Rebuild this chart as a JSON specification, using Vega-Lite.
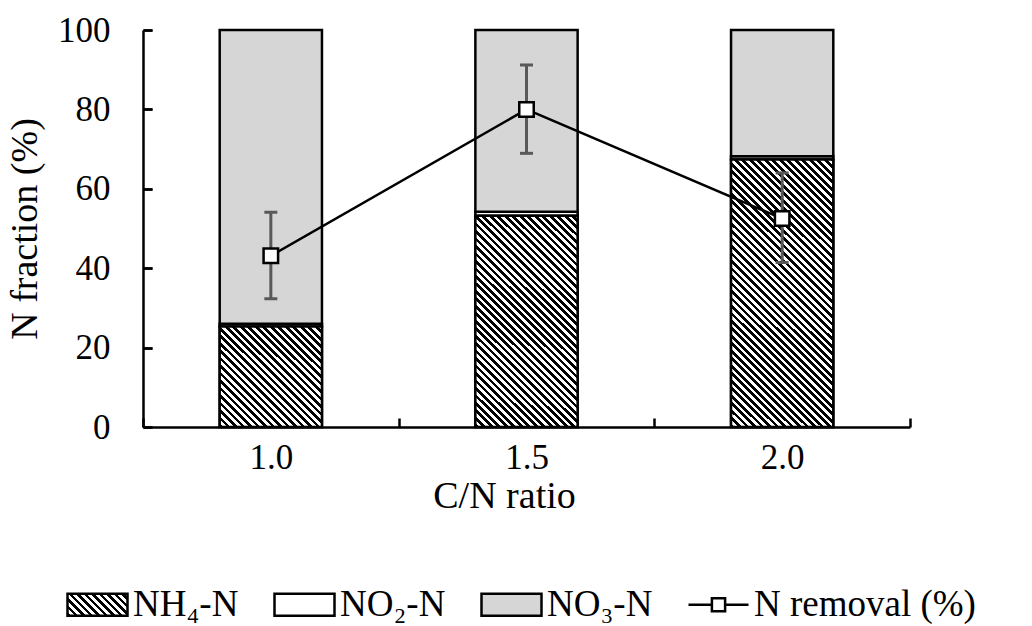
{
  "$schema": "https://vega.github.io/schema/vega-lite/v6.json",
  "width": 767,
  "height": 397,
  "autosize": {"type": "none"},
  "padding": {"left": 143, "top": 30, "right": 122, "bottom": 199},
  "background": "white",
  "params": [
    {"name": "hatch", "value": [
      {"offset":0,"color":"#000"},{"offset":0.01,"color":"#000"},{"offset":0.01,"color":"#fff"},{"offset":0.02,"color":"#fff"},
      {"offset":0.02,"color":"#000"},{"offset":0.03,"color":"#000"},{"offset":0.03,"color":"#fff"},{"offset":0.04,"color":"#fff"},
      {"offset":0.04,"color":"#000"},{"offset":0.05,"color":"#000"},{"offset":0.05,"color":"#fff"},{"offset":0.06,"color":"#fff"},
      {"offset":0.06,"color":"#000"},{"offset":0.07,"color":"#000"},{"offset":0.07,"color":"#fff"},{"offset":0.08,"color":"#fff"},
      {"offset":0.08,"color":"#000"},{"offset":0.09,"color":"#000"},{"offset":0.09,"color":"#fff"},{"offset":0.1,"color":"#fff"},
      {"offset":0.1,"color":"#000"},{"offset":0.11,"color":"#000"},{"offset":0.11,"color":"#fff"},{"offset":0.12,"color":"#fff"},
      {"offset":0.12,"color":"#000"},{"offset":0.13,"color":"#000"},{"offset":0.13,"color":"#fff"},{"offset":0.14,"color":"#fff"},
      {"offset":0.14,"color":"#000"},{"offset":0.15,"color":"#000"},{"offset":0.15,"color":"#fff"},{"offset":0.16,"color":"#fff"},
      {"offset":0.16,"color":"#000"},{"offset":0.17,"color":"#000"},{"offset":0.17,"color":"#fff"},{"offset":0.18,"color":"#fff"},
      {"offset":0.18,"color":"#000"},{"offset":0.19,"color":"#000"},{"offset":0.19,"color":"#fff"},{"offset":0.2,"color":"#fff"},
      {"offset":0.2,"color":"#000"},{"offset":0.21,"color":"#000"},{"offset":0.21,"color":"#fff"},{"offset":0.22,"color":"#fff"},
      {"offset":0.22,"color":"#000"},{"offset":0.23,"color":"#000"},{"offset":0.23,"color":"#fff"},{"offset":0.24,"color":"#fff"},
      {"offset":0.24,"color":"#000"},{"offset":0.25,"color":"#000"},{"offset":0.25,"color":"#fff"},{"offset":0.26,"color":"#fff"},
      {"offset":0.26,"color":"#000"},{"offset":0.27,"color":"#000"},{"offset":0.27,"color":"#fff"},{"offset":0.28,"color":"#fff"},
      {"offset":0.28,"color":"#000"},{"offset":0.29,"color":"#000"},{"offset":0.29,"color":"#fff"},{"offset":0.3,"color":"#fff"},
      {"offset":0.3,"color":"#000"},{"offset":0.31,"color":"#000"},{"offset":0.31,"color":"#fff"},{"offset":0.32,"color":"#fff"},
      {"offset":0.32,"color":"#000"},{"offset":0.33,"color":"#000"},{"offset":0.33,"color":"#fff"},{"offset":0.34,"color":"#fff"},
      {"offset":0.34,"color":"#000"},{"offset":0.35,"color":"#000"},{"offset":0.35,"color":"#fff"},{"offset":0.36,"color":"#fff"},
      {"offset":0.36,"color":"#000"},{"offset":0.37,"color":"#000"},{"offset":0.37,"color":"#fff"},{"offset":0.38,"color":"#fff"},
      {"offset":0.38,"color":"#000"},{"offset":0.39,"color":"#000"},{"offset":0.39,"color":"#fff"},{"offset":0.4,"color":"#fff"},
      {"offset":0.4,"color":"#000"},{"offset":0.41,"color":"#000"},{"offset":0.41,"color":"#fff"},{"offset":0.42,"color":"#fff"},
      {"offset":0.42,"color":"#000"},{"offset":0.43,"color":"#000"},{"offset":0.43,"color":"#fff"},{"offset":0.44,"color":"#fff"},
      {"offset":0.44,"color":"#000"},{"offset":0.45,"color":"#000"},{"offset":0.45,"color":"#fff"},{"offset":0.46,"color":"#fff"},
      {"offset":0.46,"color":"#000"},{"offset":0.47,"color":"#000"},{"offset":0.47,"color":"#fff"},{"offset":0.48,"color":"#fff"},
      {"offset":0.48,"color":"#000"},{"offset":0.49,"color":"#000"},{"offset":0.49,"color":"#fff"},{"offset":0.5,"color":"#fff"},
      {"offset":0.5,"color":"#000"},{"offset":0.51,"color":"#000"},{"offset":0.51,"color":"#fff"},{"offset":0.52,"color":"#fff"},
      {"offset":0.52,"color":"#000"},{"offset":0.53,"color":"#000"},{"offset":0.53,"color":"#fff"},{"offset":0.54,"color":"#fff"},
      {"offset":0.54,"color":"#000"},{"offset":0.55,"color":"#000"},{"offset":0.55,"color":"#fff"},{"offset":0.56,"color":"#fff"},
      {"offset":0.56,"color":"#000"},{"offset":0.57,"color":"#000"},{"offset":0.57,"color":"#fff"},{"offset":0.58,"color":"#fff"},
      {"offset":0.58,"color":"#000"},{"offset":0.59,"color":"#000"},{"offset":0.59,"color":"#fff"},{"offset":0.6,"color":"#fff"},
      {"offset":0.6,"color":"#000"},{"offset":0.61,"color":"#000"},{"offset":0.61,"color":"#fff"},{"offset":0.62,"color":"#fff"},
      {"offset":0.62,"color":"#000"},{"offset":0.63,"color":"#000"},{"offset":0.63,"color":"#fff"},{"offset":0.64,"color":"#fff"},
      {"offset":0.64,"color":"#000"},{"offset":0.65,"color":"#000"},{"offset":0.65,"color":"#fff"},{"offset":0.66,"color":"#fff"},
      {"offset":0.66,"color":"#000"},{"offset":0.67,"color":"#000"},{"offset":0.67,"color":"#fff"},{"offset":0.68,"color":"#fff"},
      {"offset":0.68,"color":"#000"},{"offset":0.69,"color":"#000"},{"offset":0.69,"color":"#fff"},{"offset":0.7,"color":"#fff"},
      {"offset":0.7,"color":"#000"},{"offset":0.71,"color":"#000"},{"offset":0.71,"color":"#fff"},{"offset":0.72,"color":"#fff"},
      {"offset":0.72,"color":"#000"},{"offset":0.73,"color":"#000"},{"offset":0.73,"color":"#fff"},{"offset":0.74,"color":"#fff"},
      {"offset":0.74,"color":"#000"},{"offset":0.75,"color":"#000"},{"offset":0.75,"color":"#fff"},{"offset":0.76,"color":"#fff"},
      {"offset":0.76,"color":"#000"},{"offset":0.77,"color":"#000"},{"offset":0.77,"color":"#fff"},{"offset":0.78,"color":"#fff"},
      {"offset":0.78,"color":"#000"},{"offset":0.79,"color":"#000"},{"offset":0.79,"color":"#fff"},{"offset":0.8,"color":"#fff"},
      {"offset":0.8,"color":"#000"},{"offset":0.81,"color":"#000"},{"offset":0.81,"color":"#fff"},{"offset":0.82,"color":"#fff"},
      {"offset":0.82,"color":"#000"},{"offset":0.83,"color":"#000"},{"offset":0.83,"color":"#fff"},{"offset":0.84,"color":"#fff"},
      {"offset":0.84,"color":"#000"},{"offset":0.85,"color":"#000"},{"offset":0.85,"color":"#fff"},{"offset":0.86,"color":"#fff"},
      {"offset":0.86,"color":"#000"},{"offset":0.87,"color":"#000"},{"offset":0.87,"color":"#fff"},{"offset":0.88,"color":"#fff"},
      {"offset":0.88,"color":"#000"},{"offset":0.89,"color":"#000"},{"offset":0.89,"color":"#fff"},{"offset":0.9,"color":"#fff"},
      {"offset":0.9,"color":"#000"},{"offset":0.91,"color":"#000"},{"offset":0.91,"color":"#fff"},{"offset":0.92,"color":"#fff"},
      {"offset":0.92,"color":"#000"},{"offset":0.93,"color":"#000"},{"offset":0.93,"color":"#fff"},{"offset":0.94,"color":"#fff"},
      {"offset":0.94,"color":"#000"},{"offset":0.95,"color":"#000"},{"offset":0.95,"color":"#fff"},{"offset":0.96,"color":"#fff"},
      {"offset":0.96,"color":"#000"},{"offset":0.97,"color":"#000"},{"offset":0.97,"color":"#fff"},{"offset":0.98,"color":"#fff"},
      {"offset":0.98,"color":"#000"},{"offset":0.99,"color":"#000"},{"offset":0.99,"color":"#fff"},{"offset":1,"color":"#fff"}
    ]}
  ],
  "datasets": {
    "fractions": [
      {"ratio": "1.0", "series": "NH₄-N", "key": "NH4", "order": 1, "value": 25.3},
      {"ratio": "1.0", "series": "NO₂-N", "key": "NO2", "order": 2, "value": 0.7},
      {"ratio": "1.0", "series": "NO₃-N", "key": "NO3", "order": 3, "value": 74.0},
      {"ratio": "1.5", "series": "NH₄-N", "key": "NH4", "order": 1, "value": 53.2},
      {"ratio": "1.5", "series": "NO₂-N", "key": "NO2", "order": 2, "value": 1.0},
      {"ratio": "1.5", "series": "NO₃-N", "key": "NO3", "order": 3, "value": 45.8},
      {"ratio": "2.0", "series": "NH₄-N", "key": "NH4", "order": 1, "value": 67.4},
      {"ratio": "2.0", "series": "NO₂-N", "key": "NO2", "order": 2, "value": 0.8},
      {"ratio": "2.0", "series": "NO₃-N", "key": "NO3", "order": 3, "value": 31.8}
    ],
    "removal": [
      {"ratio": "1.0", "removal": 80.9, "lower": 79.17, "upper": 82.65},
      {"ratio": "1.5", "removal": 86.8, "lower": 85.03, "upper": 88.59},
      {"ratio": "2.0", "removal": 82.4, "lower": 80.63, "upper": 84.24}
    ]
  },
  "config": {
    "view": {"stroke": null},
    "font": "Liberation Serif",
    "axis": {
      "ticks": true, "tickColor": "black", "tickWidth": 2.5, "tickSize": -9,
      "grid": true, "gridColor": "black", "gridWidth": 2.5, "gridOpacity": 1, "gridDash": [9, 2000],
      "domainColor": "black", "domainWidth": 2.5,
      "labelColor": "black", "titleColor": "black",
      "labelFont": "Liberation Serif", "titleFont": "Liberation Serif",
      "labelFontSize": 35, "titleFontSize": 38, "titleFontWeight": "normal"
    }
  },
  "encoding": {
    "x": {
      "field": "ratio", "type": "nominal", "sort": ["1.0", "1.5", "2.0"],
      "scale": {"paddingInner": 0, "paddingOuter": 0},
      "axis": {
        "title": "C/N ratio", "labelAngle": 0, "ticks": true, "tickSize": -9, "grid": false, "tickBand": "extent",
        "labelPadding": 22, "titlePadding": 2, "titleX": 361
      }
    }
  },
  "layer": [
    {
      "data": {"name": "fractions"},
      "encoding": {
        "y": {
          "field": "value", "type": "quantitative", "stack": "zero",
          "scale": {"domain": [0, 100], "nice": false},
          "axis": {
            "orient": "left", "values": [0, 20, 40, 60, 80, 100], "ticks": true, "tickSize": -9, "grid": true,
            "labelPadding": 42, "title": "N fraction (%)", "titlePadding": 13
          }
        }
      },
      "layer": [
        {
          "mark": {"type": "bar", "stroke": "black", "strokeWidth": 2.5, "width": {"band": 0.4}},
          "encoding": {
            "order": {"field": "order", "type": "quantitative"},
            "fill": {
              "field": "series", "type": "nominal",
              "scale": {
                "domain": ["NH₄-N", "NO₂-N", "NO₃-N", "N removal (%)"],
                "range": [{"expr": "{gradient: 'linear', x1: 0, y1: 1, x2: 5.4975, y2: -1.034, stops: hatch}"}, "#ffffff", "#d6d6d6", "#ffffff"]
              },
              "legend": {
                "orient": "none", "legendX": -77, "legendY": 543, "direction": "horizontal", "title": null,
                "symbolType": "M-1,-0.37H1V0.37H-1Z", "symbolSize": 3600, "symbolStrokeWidth": 2.5, "symbolStrokeColor": "black",
                "labelFont": "Liberation Serif", "labelFontSize": 37, "labelColor": "black", "labelOffset": 4,
                "columnPadding": 30, "labelLimit": 400, "padding": 0,
                "encode": {
                  "symbols": {
                    "update": {
                      "shape": [
                        {"test": "datum.index === 3", "value": "M-1,0H-0.22M0.22,0H1M-0.22,-0.22H0.22V0.22H-0.22Z"},
                        {"value": "M-1,-0.37H1V0.37H-1Z"}
                      ],
                      "stroke": {"value": "black"},
                      "strokeWidth": {"value": 2.5},
                      "opacity": {"value": 1}
                    }
                  }
                }
              }
            }
          }
        },
        {
          "transform": [{"filter": "datum.key === 'NH4' && datum.ratio === '1.0'"}],
          "mark": {"type": "bar", "stroke": "black", "strokeWidth": 2.5, "width": {"band": 0.4}, "fill": {"expr": "{gradient: 'linear', x1: 0, y1: 1, x2: 1.8617, y2: -0.8326, stops: hatch}"}}
        },
        {
          "transform": [{"filter": "datum.key === 'NH4' && datum.ratio === '1.5'"}],
          "mark": {"type": "bar", "stroke": "black", "strokeWidth": 2.5, "width": {"band": 0.4}, "fill": {"expr": "{gradient: 'linear', x1: 0, y1: 1, x2: 0.6918, y2: -0.4343, stops: hatch}"}}
        },
        {
          "transform": [{"filter": "datum.key === 'NH4' && datum.ratio === '2.0'"}],
          "mark": {"type": "bar", "stroke": "black", "strokeWidth": 2.5, "width": {"band": 0.4}, "fill": {"expr": "{gradient: 'linear', x1: 0, y1: 1, x2: 0.4653, y2: -0.2203, stops: hatch}"}}
        }
      ]
    },
    {
      "data": {"name": "removal"},
      "layer": [
        {
          "mark": {"type": "rule", "color": "#595959", "strokeWidth": 3},
          "encoding": {
            "y": {"field": "lower", "type": "quantitative", "title": "N removal efficiency (%)", "axis": null},
            "y2": {"field": "upper"}
          }
        },
        {
          "mark": {"type": "tick", "color": "#595959", "thickness": 3, "size": 13, "opacity": 1},
          "encoding": {"y": {"field": "upper", "type": "quantitative", "title": "N removal efficiency (%)", "axis": null}}
        },
        {
          "mark": {"type": "tick", "color": "#595959", "thickness": 3, "size": 13, "opacity": 1},
          "encoding": {"y": {"field": "lower", "type": "quantitative", "title": "N removal efficiency (%)", "axis": null}}
        },
        {
          "mark": {"type": "line", "color": "black", "strokeWidth": 2.5},
          "encoding": {
            "y": {
              "field": "removal", "type": "quantitative", "title": "N removal efficiency (%)",
              "scale": {"domain": [74, 90], "nice": false, "zero": false},
              "axis": {
                "orient": "right", "values": [74, 76, 78, 80, 82, 84, 86, 88, 90], "ticks": true, "tickSize": -9, "grid": true, "labelPadding": 39,
                "title": "N removal efficiency (%)", "titleAngle": 270, "titleBaseline": "top", "titlePadding": 17
              }
            }
          }
        },
        {
          "mark": {"type": "point", "shape": "square", "size": 210, "filled": true, "fill": "white", "stroke": "black", "strokeWidth": 2.5, "opacity": 1},
          "encoding": {"y": {"field": "removal", "type": "quantitative", "title": "N removal efficiency (%)", "axis": null}}
        }
      ]
    }
  ],
  "resolve": {"scale": {"y": "independent"}}
}
